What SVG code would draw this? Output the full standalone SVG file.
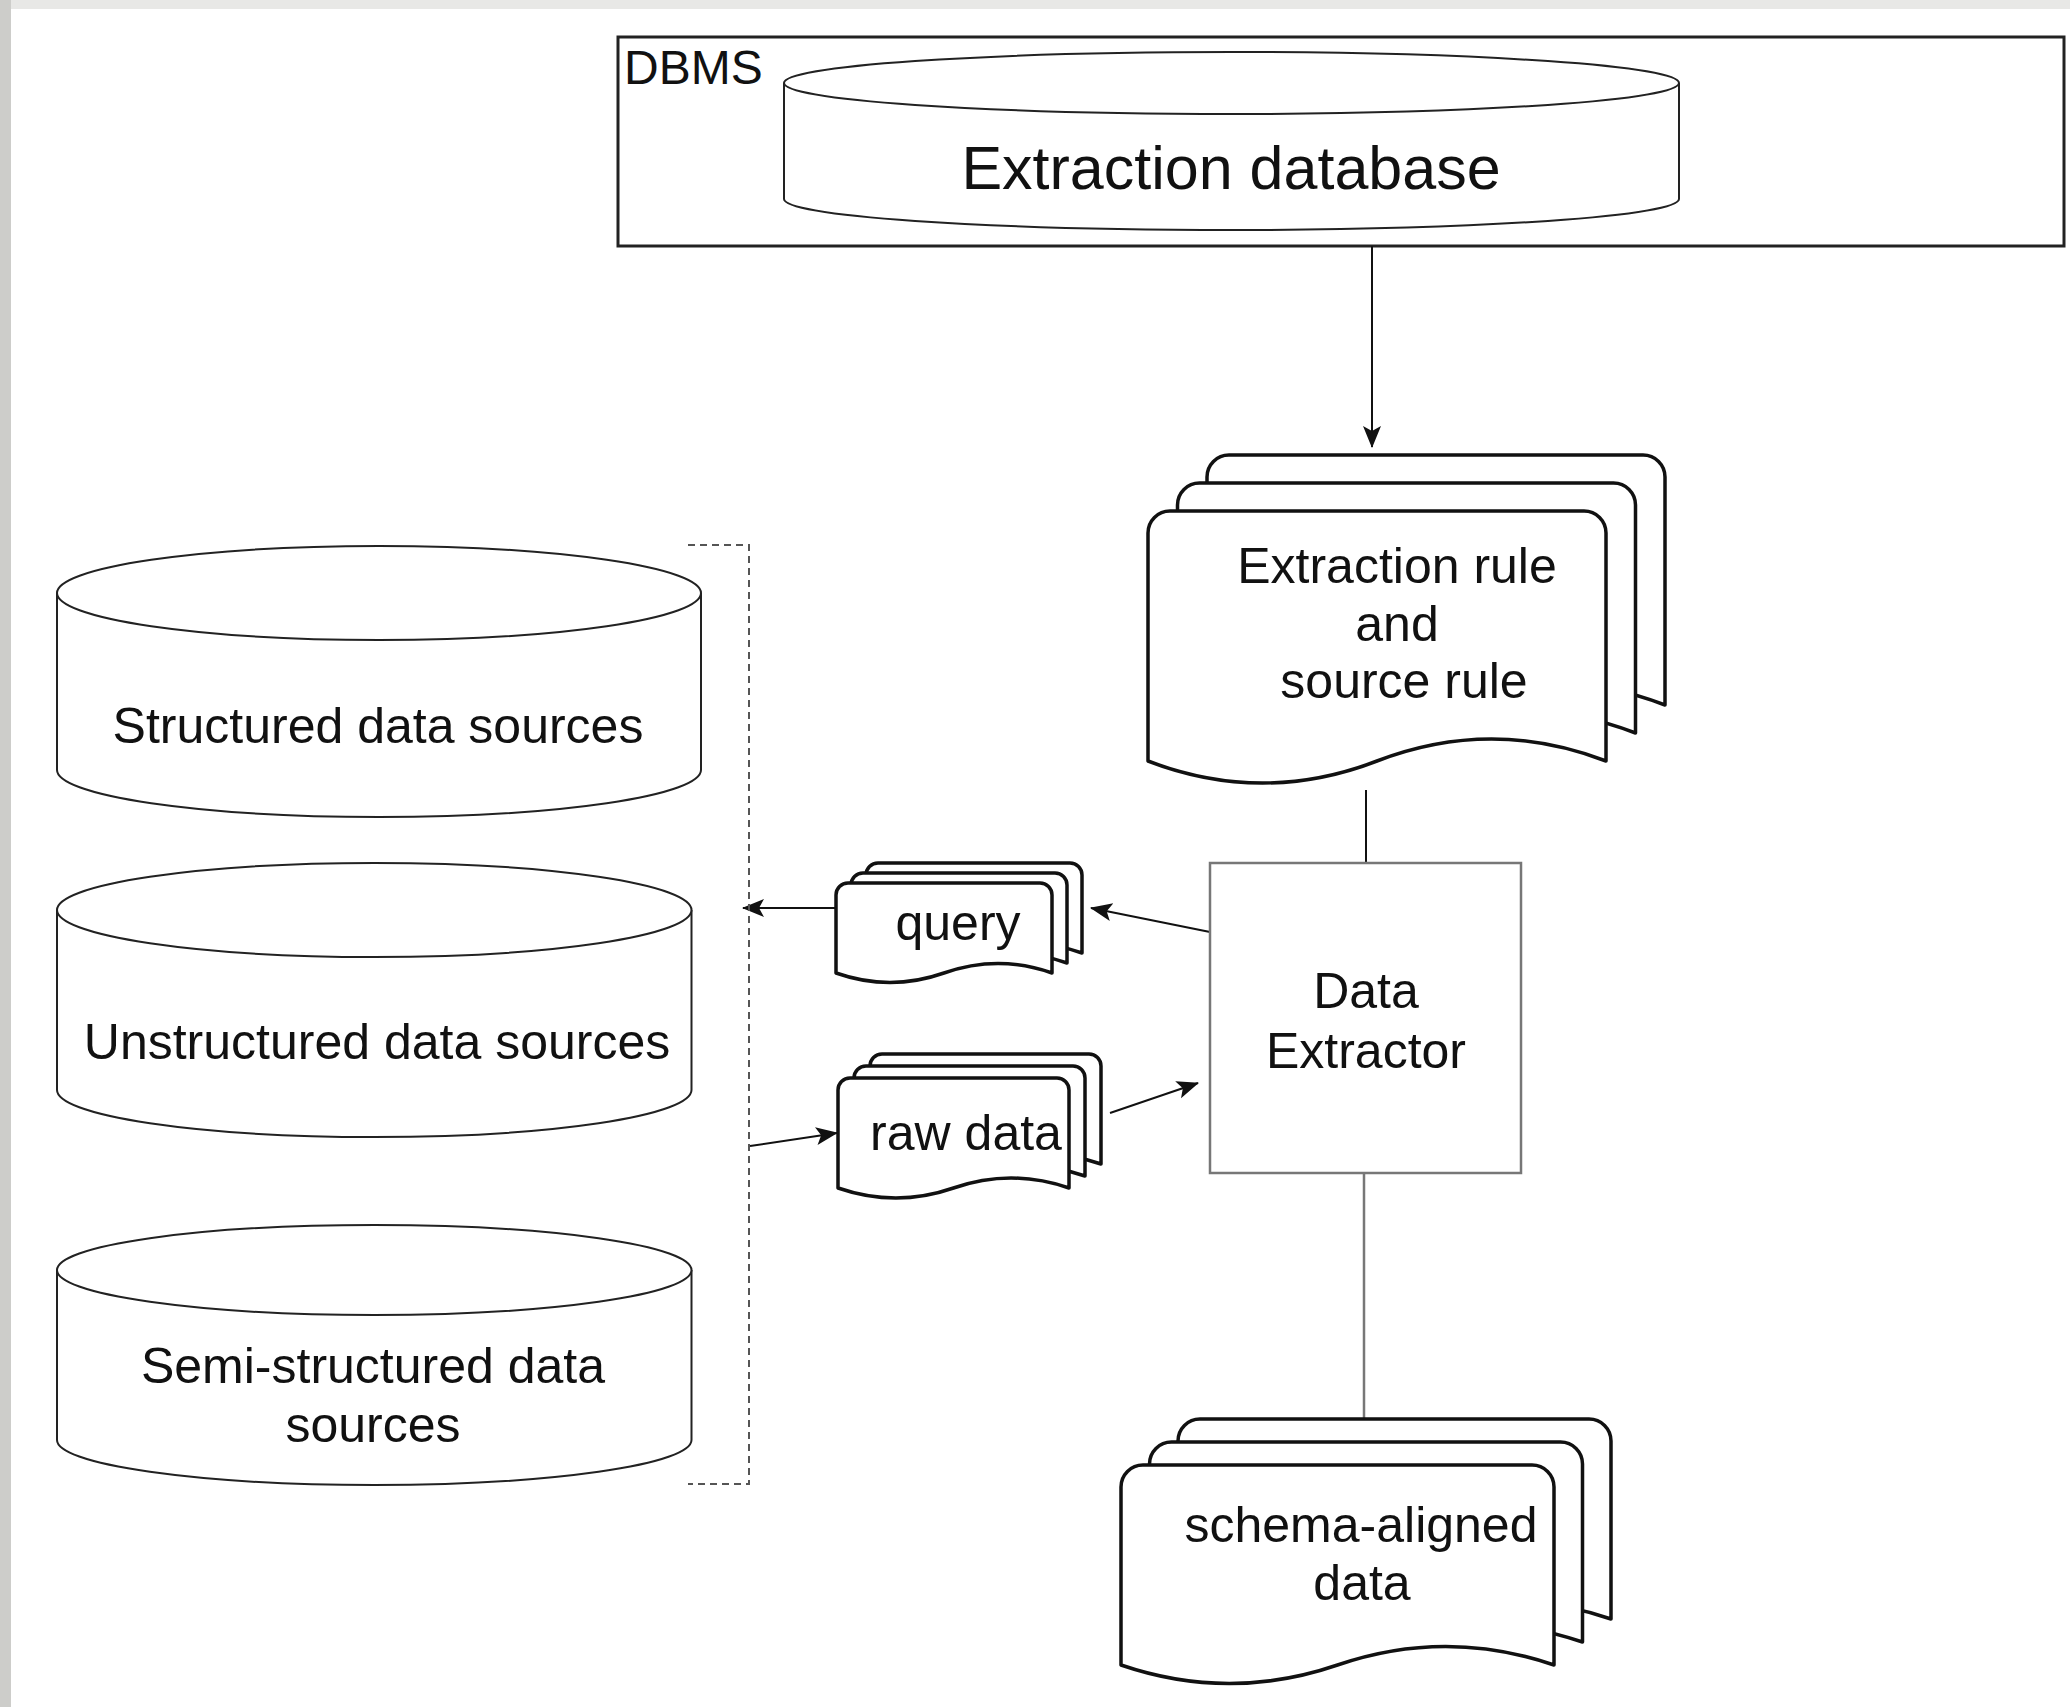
<svg xmlns="http://www.w3.org/2000/svg" width="2070" height="1707" viewBox="0 0 2070 1707">
<defs>
<style>
.t{font-family:"Liberation Sans",Arial,sans-serif;fill:#111;font-size:50px;text-anchor:middle}
.doc{fill:#fff;stroke:#111;stroke-width:3.5;stroke-linejoin:round}
.cyl{fill:#fff;stroke:#222;stroke-width:2}
.ln{fill:none;stroke:#111;stroke-width:2}
.gl{fill:none;stroke:#777;stroke-width:2.5}
.dash{fill:none;stroke:#555;stroke-width:2;stroke-dasharray:7 5}
</style>
<marker id="arr" markerUnits="userSpaceOnUse" markerWidth="22" markerHeight="20" viewBox="0 0 22 20" refX="21" refY="10" orient="auto">
<path d="M0,1 L22,10 L0,19 L5,10 Z" fill="#111"/>
</marker>
</defs>
<rect x="0" y="0" width="2070" height="1707" fill="#fff"/>
<rect x="0" y="0" width="2070" height="9" fill="#e8e8e6"/>
<rect x="0" y="0" width="11" height="1707" fill="#cdcdca"/>

<g id="dbms">
<rect x="618" y="37" width="1446" height="209" fill="#fff" stroke="#222" stroke-width="3"/>
<text x="624" y="84" style="font-family:'Liberation Sans',Arial,sans-serif;font-size:48px;fill:#111">DBMS</text>
</g>

<g id="extraction-database">
<path class="cyl" d="M784,83 A447.5,31 0 0 1 1679,83 L1679,199 A447.5,31 0 0 1 784,199 Z"/>
<path class="cyl" d="M784,83 A447.5,31 0 0 0 1679,83"/>
<text class="t" x="1231" y="189" style="font-size:61px">Extraction database</text>
</g>

<g id="connectors">
<line class="ln" x1="1372" y1="246" x2="1372" y2="447" marker-end="url(#arr)"/>
<line class="ln" x1="1366" y1="790" x2="1366" y2="863"/>
<line class="ln" x1="1210" y1="932" x2="1091" y2="908" marker-end="url(#arr)"/>
<line class="ln" x1="836" y1="908" x2="743" y2="908" marker-end="url(#arr)"/>
<line class="ln" x1="750" y1="1146" x2="837" y2="1133" marker-end="url(#arr)"/>
<line class="ln" x1="1110" y1="1113" x2="1198" y2="1083" marker-end="url(#arr)"/>
<line class="gl" x1="1364" y1="1173" x2="1364" y2="1419"/>
<path class="dash" d="M688,545 L749,545 L749,1484 L688,1484"/>
</g>

<g id="extraction-rule">
<path class="doc" d="M1207,477 A22,22 0 0 1 1229,455 L1643,455 A22,22 0 0 1 1665,477 L1665,705 Q1550.5,661 1436,705 Q1321.5,749 1207,705 Z"/>
<path class="doc" d="M1177.5,505 A22,22 0 0 1 1199.5,483 L1613.5,483 A22,22 0 0 1 1635.5,505 L1635.5,733 Q1521,689 1406.5,733 Q1292,777 1177.5,733 Z"/>
<path class="doc" d="M1148,533 A22,22 0 0 1 1170,511 L1584,511 A22,22 0 0 1 1606,533 L1606,761 Q1491.5,717 1377,761 Q1262.5,805 1148,761 Z"/>
<text class="t" x="1397" y="583">Extraction rule</text>
<text class="t" x="1397" y="641">and</text>
<text class="t" x="1404" y="698">source rule</text>
</g>

<g id="data-extractor">
<rect x="1210" y="863" width="311" height="310" fill="#fff" stroke="#777" stroke-width="2.5"/>
<text class="t" x="1366" y="1008">Data</text>
<text class="t" x="1366" y="1068">Extractor</text>
</g>

<g id="query">
<path class="doc" d="M866,875 A12,12 0 0 1 878,863 L1070,863 A12,12 0 0 1 1082,875 L1082,953 Q1028,934 974,953 Q920,972 866,953 Z"/>
<path class="doc" d="M851,885 A12,12 0 0 1 863,873 L1055,873 A12,12 0 0 1 1067,885 L1067,963 Q1013,944 959,963 Q905,982 851,963 Z"/>
<path class="doc" d="M836,895 A12,12 0 0 1 848,883 L1040,883 A12,12 0 0 1 1052,895 L1052,973 Q998,954 944,973 Q890,992 836,973 Z"/>
<text class="t" x="958" y="940">query</text>
</g>

<g id="raw-data">
<path class="doc" d="M870,1066 A12,12 0 0 1 882,1054 L1089,1054 A12,12 0 0 1 1101,1066 L1101,1164 Q1043,1144 985.5,1164 Q928,1184 870,1164 Z"/>
<path class="doc" d="M854,1078 A12,12 0 0 1 866,1066 L1073,1066 A12,12 0 0 1 1085,1078 L1085,1176 Q1027,1156 969.5,1176 Q912,1196 854,1176 Z"/>
<path class="doc" d="M838,1090 A12,12 0 0 1 850,1078 L1057,1078 A12,12 0 0 1 1069,1090 L1069,1188 Q1011,1168 953.5,1188 Q896,1208 838,1188 Z"/>
<text class="t" x="966" y="1150">raw data</text>
</g>

<g id="schema-aligned-data">
<path class="doc" d="M1178,1441 A22,22 0 0 1 1200,1419 L1589,1419 A22,22 0 0 1 1611,1441 L1611,1619 Q1502.75,1582 1394.5,1619 Q1286.25,1656 1178,1619 Z"/>
<path class="doc" d="M1149.5,1464 A22,22 0 0 1 1171.5,1442 L1560.5,1442 A22,22 0 0 1 1582.5,1464 L1582.5,1642 Q1474.25,1605 1366,1642 Q1257.75,1679 1149.5,1642 Z"/>
<path class="doc" d="M1121,1487 A22,22 0 0 1 1143,1465 L1532,1465 A22,22 0 0 1 1554,1487 L1554,1665 Q1445.75,1628 1337.5,1665 Q1229.25,1702 1121,1665 Z"/>
<text class="t" x="1361" y="1542">schema-aligned</text>
<text class="t" x="1362" y="1600">data</text>
</g>

<g id="structured-data-sources">
<path class="cyl" d="M57,593 A322,47 0 0 1 701,593 L701,770 A322,47 0 0 1 57,770 Z"/>
<path class="cyl" d="M57,593 A322,47 0 0 0 701,593"/>
<text class="t" x="378" y="743">Structured data sources</text>
</g>

<g id="unstructured-data-sources">
<path class="cyl" d="M57,910 A317.25,47 0 0 1 691.5,910 L691.5,1090 A317.25,47 0 0 1 57,1090 Z"/>
<path class="cyl" d="M57,910 A317.25,47 0 0 0 691.5,910"/>
<text class="t" x="377" y="1059">Unstructured data sources</text>
</g>

<g id="semi-structured-data-sources">
<path class="cyl" d="M57,1270 A317.25,45 0 0 1 691.5,1270 L691.5,1440 A317.25,45 0 0 1 57,1440 Z"/>
<path class="cyl" d="M57,1270 A317.25,45 0 0 0 691.5,1270"/>
<text class="t" x="373" y="1383">Semi-structured data</text>
<text class="t" x="373" y="1442">sources</text>
</g>
</svg>
